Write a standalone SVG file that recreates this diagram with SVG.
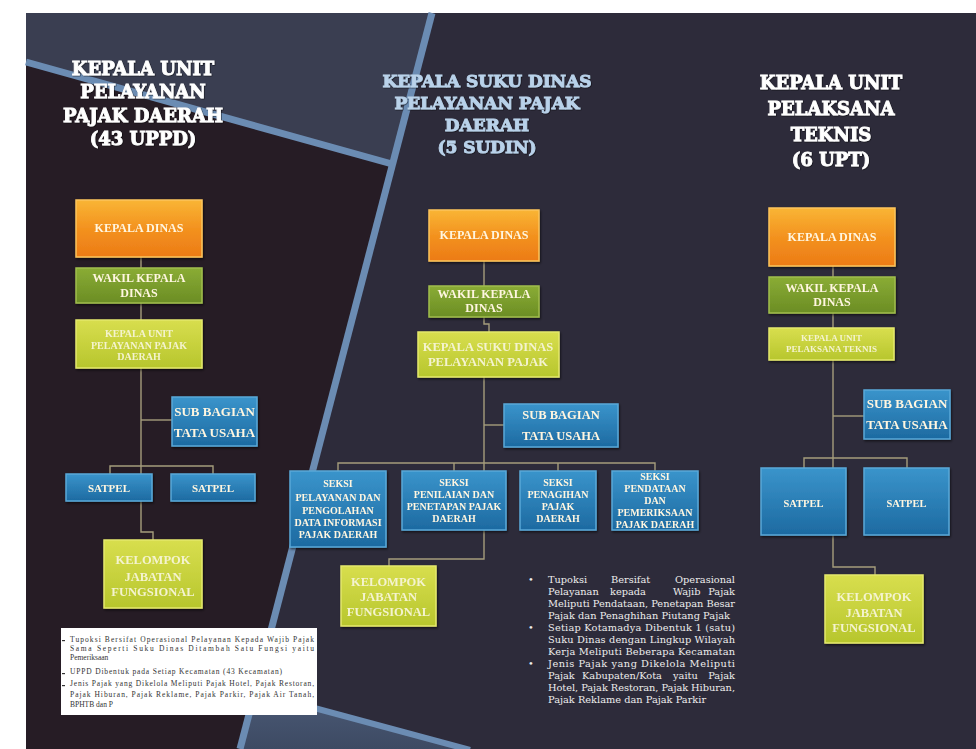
<svg xmlns="http://www.w3.org/2000/svg" width="976" height="749" viewBox="0 0 976 749">
<style>
.hd{font-family:"DejaVu Serif","Liberation Serif",serif;font-weight:bold;text-anchor:middle;fill:#ffffff;stroke:#ffffff;stroke-width:0.9}
.hdb{font-family:"DejaVu Serif","Liberation Serif",serif;font-weight:bold;text-anchor:middle;fill:#b9d2ea;stroke:#b9d2ea;stroke-width:0.9}
.bt{font-family:"Liberation Serif","DejaVu Serif",serif;font-weight:bold;text-anchor:middle;fill:#fff6e0}
.by{font-family:"Liberation Serif","DejaVu Serif",serif;font-weight:bold;text-anchor:middle;fill:#f4f3cf}
.con{fill:none;stroke:#a59d7c;stroke-width:1.4}
.note{font-family:"Liberation Serif",serif;font-size:7.5px;fill:#333}
.note2{font-family:"DejaVu Serif","Liberation Serif",serif;font-size:9.8px;fill:#ededed}
.or{fill:url(#gOr);stroke:#fbc45c;stroke-width:1.5}
.gr{fill:url(#gGr);stroke:#a0bd4c;stroke-width:1.5}
.ye{fill:url(#gYe);stroke:#e4e86c;stroke-width:1.5}
.bl{fill:url(#gBl);stroke:#5aa8d8;stroke-width:1.5}
</style>
<defs>
<linearGradient id="gOr" x1="0" y1="0" x2="0" y2="1"><stop offset="0" stop-color="#f9b535"/><stop offset="0.5" stop-color="#f3921f"/><stop offset="1" stop-color="#ec7b16"/></linearGradient>
<linearGradient id="gGr" x1="0" y1="0" x2="0" y2="1"><stop offset="0" stop-color="#8aac35"/><stop offset="1" stop-color="#6b8d24"/></linearGradient>
<linearGradient id="gYe" x1="0" y1="0" x2="0" y2="1"><stop offset="0" stop-color="#d8de4e"/><stop offset="1" stop-color="#b7c62d"/></linearGradient>
<linearGradient id="gBl" x1="0" y1="0" x2="0" y2="1"><stop offset="0" stop-color="#3a94cb"/><stop offset="1" stop-color="#1d6aa1"/></linearGradient>
<linearGradient id="gBand" x1="0" y1="0" x2="0" y2="1"><stop offset="0" stop-color="#4b5a76"/><stop offset="1" stop-color="#3d4a63"/></linearGradient>
<filter id="sh" x="-10%" y="-10%" width="120%" height="130%"><feDropShadow dx="1" dy="1.5" stdDeviation="1" flood-color="#000" flood-opacity="0.6"/></filter>
<filter id="tsh"><feDropShadow dx="0.6" dy="0.6" stdDeviation="0.4" flood-color="#000" flood-opacity="0.7"/></filter>
</defs>

<g id="background">
<rect x="0" y="0" width="976" height="749" fill="#ffffff"/>
<rect x="26" y="13" width="950" height="736" fill="#2d2b3a"/>
<polygon points="26,13 432,13 392,164 26,62" fill="#3a3e51"/>
<polygon points="26,62 392,164 240,749 26,749" fill="#261c25"/>
<polygon points="255,692 470,749 240,749" fill="url(#gBand)"/>
<g fill="none" stroke="#6b8cb3" stroke-width="7" stroke-linejoin="round">
<polyline points="26,62 392,164"/>
<polyline points="432,13 240,749"/>
<polyline points="255,692 470,750" stroke-width="6"/>
</g>
</g>

<g id="headers" filter="url(#tsh)">
<g id="hdr-left" class="hd" font-size="18">
<text x="143" y="75">KEPALA UNIT</text>
<text x="143" y="98">PELAYANAN</text>
<text x="143" y="122">PAJAK DAERAH</text>
<text x="143" y="145">(43 UPPD)</text>
</g>
<g id="hdr-mid" class="hdb" font-size="17">
<text x="487" y="87">KEPALA SUKU DINAS</text>
<text x="487" y="109">PELAYANAN PAJAK</text>
<text x="487" y="131">DAERAH</text>
<text x="487" y="153">(5 SUDIN)</text>
</g>
<g id="hdr-right" class="hd" font-size="18">
<text x="831" y="89">KEPALA UNIT</text>
<text x="831" y="115">PELAKSANA</text>
<text x="831" y="141">TEKNIS</text>
<text x="831" y="166">(6 UPT)</text>
</g>
</g>

<g id="connectors" class="con">
<path d="M141 257 V474"/>
<path d="M141 420 H172"/>
<path d="M110 474 V466 H213 V474"/>
<path d="M141 501 V532 H153 V540"/>
<path d="M484 261 V286"/>
<path d="M484 317 V324 H489 V332"/>
<path d="M484 377 V471"/>
<path d="M484 425 H504"/>
<path d="M338 471 V463 H655 V471"/>
<path d="M454 463 V471"/>
<path d="M558 463 V471"/>
<path d="M484 530 V559 H389 V566"/>
<path d="M833 266 V468"/>
<path d="M833 416 H864"/>
<path d="M804 468 V458 H907 V468"/>
<path d="M833 535 V567 H875 V575"/>
</g>

<!-- Left column -->
<g id="l-kd" filter="url(#sh)"><rect class="or" x="76" y="200" width="126" height="57"/><text class="bt" x="139" y="232" font-size="12">KEPALA DINAS</text></g>
<g id="l-wakil" filter="url(#sh)"><rect class="gr" x="76" y="268" width="126" height="35"/><text class="bt" x="139" y="282" font-size="12">WAKIL KEPALA</text><text class="bt" x="139" y="297" font-size="12">DINAS</text></g>
<g id="l-kuppd" filter="url(#sh)"><rect class="ye" x="76" y="320" width="126" height="48"/><text class="by" x="139" y="337" font-size="10">KEPALA UNIT</text><text class="by" x="139" y="349" font-size="10">PELAYANAN PAJAK</text><text class="by" x="139" y="360" font-size="10">DAERAH</text></g>
<g id="l-sub" filter="url(#sh)"><rect class="bl" x="172" y="397" width="85" height="49"/><text class="bt" x="214.5" y="416" font-size="13">SUB BAGIAN</text><text class="bt" x="214.5" y="437" font-size="13">TATA USAHA</text></g>
<g id="l-satpel1" filter="url(#sh)"><rect class="bl" x="66" y="474" width="86" height="27"/><text class="bt" x="109" y="492" font-size="11">SATPEL</text></g>
<g id="l-satpel2" filter="url(#sh)"><rect class="bl" x="171" y="474" width="84" height="27"/><text class="bt" x="213" y="492" font-size="11">SATPEL</text></g>
<g id="l-kjf" filter="url(#sh)"><rect class="ye" x="104" y="540" width="98" height="68"/><text class="by" x="153" y="564" font-size="12.5">KELOMPOK</text><text class="by" x="153" y="581" font-size="12.5">JABATAN</text><text class="by" x="153" y="596" font-size="12.5">FUNGSIONAL</text></g>

<!-- Middle column -->
<g id="m-kd" filter="url(#sh)"><rect class="or" x="429" y="210" width="110" height="51"/><text class="bt" x="484" y="239" font-size="12">KEPALA DINAS</text></g>
<g id="m-wakil" filter="url(#sh)"><rect class="gr" x="429" y="286" width="110" height="31"/><text class="bt" x="484" y="298" font-size="12">WAKIL KEPALA</text><text class="bt" x="484" y="312" font-size="12">DINAS</text></g>
<g id="m-ksd" filter="url(#sh)"><rect class="ye" x="418" y="332" width="141" height="45"/><text class="by" x="488" y="351" font-size="12.5">KEPALA SUKU DINAS</text><text class="by" x="488" y="366" font-size="12.5">PELAYANAN PAJAK</text></g>
<g id="m-sub" filter="url(#sh)"><rect class="bl" x="504" y="404" width="114" height="43"/><text class="bt" x="561" y="419" font-size="12.5">SUB BAGIAN</text><text class="bt" x="561" y="440" font-size="12.5">TATA USAHA</text></g>
<g id="m-seksi1" filter="url(#sh)"><rect class="bl" x="290" y="471" width="96" height="76"/><text class="bt" x="338" y="487" font-size="10">SEKSI</text><text class="bt" x="338" y="501" font-size="10">PELAYANAN DAN</text><text class="bt" x="338" y="514" font-size="10">PENGOLAHAN</text><text class="bt" x="338" y="526" font-size="10">DATA INFORMASI</text><text class="bt" x="338" y="538" font-size="10">PAJAK DAERAH</text></g>
<g id="m-seksi2" filter="url(#sh)"><rect class="bl" x="402" y="471" width="104" height="59"/><text class="bt" x="454" y="486" font-size="10">SEKSI</text><text class="bt" x="454" y="498" font-size="10">PENILAIAN DAN</text><text class="bt" x="454" y="510" font-size="10">PENETAPAN PAJAK</text><text class="bt" x="454" y="522" font-size="10">DAERAH</text></g>
<g id="m-seksi3" filter="url(#sh)"><rect class="bl" x="520" y="471" width="76" height="59"/><text class="bt" x="558" y="486" font-size="10">SEKSI</text><text class="bt" x="558" y="498" font-size="10">PENAGIHAN</text><text class="bt" x="558" y="510" font-size="10">PAJAK</text><text class="bt" x="558" y="522" font-size="10">DAERAH</text></g>
<g id="m-seksi4" filter="url(#sh)"><rect class="bl" x="612" y="471" width="86" height="59"/><text class="bt" x="655" y="480" font-size="10">SEKSI</text><text class="bt" x="655" y="492" font-size="10">PENDATAAN</text><text class="bt" x="655" y="504" font-size="10">DAN</text><text class="bt" x="655" y="516" font-size="10">PEMERIKSAAN</text><text class="bt" x="655" y="528" font-size="10">PAJAK DAERAH</text></g>
<g id="m-kjf" filter="url(#sh)"><rect class="ye" x="341" y="566" width="95" height="60"/><text class="by" x="388.5" y="586" font-size="12.5">KELOMPOK</text><text class="by" x="388.5" y="601" font-size="12.5">JABATAN</text><text class="by" x="388.5" y="616" font-size="12.5">FUNGSIONAL</text></g>

<!-- Right column -->
<g id="r-kd" filter="url(#sh)"><rect class="or" x="769" y="208" width="126" height="58"/><text class="bt" x="832" y="241" font-size="12">KEPALA DINAS</text></g>
<g id="r-wakil" filter="url(#sh)"><rect class="gr" x="769" y="277" width="126" height="36"/><text class="bt" x="832" y="292" font-size="12">WAKIL KEPALA</text><text class="bt" x="832" y="306" font-size="12">DINAS</text></g>
<g id="r-kupt" filter="url(#sh)"><rect class="ye" x="769" y="328" width="125" height="32"/><text class="by" x="831.5" y="341" font-size="9">KEPALA UNIT</text><text class="by" x="831.5" y="352" font-size="9">PELAKSANA TEKNIS</text></g>
<g id="r-sub" filter="url(#sh)"><rect class="bl" x="864" y="390" width="86" height="49"/><text class="bt" x="907" y="408" font-size="13">SUB BAGIAN</text><text class="bt" x="907" y="429" font-size="13">TATA USAHA</text></g>
<g id="r-satpel1" filter="url(#sh)"><rect class="bl" x="761" y="468" width="85" height="67"/><text class="bt" x="803.5" y="507" font-size="10.5">SATPEL</text></g>
<g id="r-satpel2" filter="url(#sh)"><rect class="bl" x="864" y="468" width="85" height="67"/><text class="bt" x="906.5" y="507" font-size="10.5">SATPEL</text></g>
<g id="r-kjf" filter="url(#sh)"><rect class="ye" x="825" y="575" width="98" height="68"/><text class="by" x="874" y="601" font-size="12.5">KELOMPOK</text><text class="by" x="874" y="617" font-size="12.5">JABATAN</text><text class="by" x="874" y="632" font-size="12.5">FUNGSIONAL</text></g>

<g id="note-left">
<rect x="61" y="628" width="256" height="87" fill="#ffffff"/>
<rect x="62" y="640" width="3" height="1.2" fill="#333"/>
<rect x="62" y="673" width="3" height="1.2" fill="#333"/>
<rect x="62" y="685" width="3" height="1.2" fill="#333"/>
<text class="note" x="70" y="642" textLength="244" lengthAdjust="spacing">Tupoksi Bersifat Operasional Pelayanan Kepada Wajib Pajak</text>
<text class="note" x="70" y="651" textLength="244" lengthAdjust="spacing">Sama Seperti Suku Dinas Ditambah Satu Fungsi yaitu</text>
<text class="note" x="70" y="660">Pemeriksaan</text>
<text class="note" x="70" y="674" textLength="212" lengthAdjust="spacing">UPPD Dibentuk pada Setiap Kecamatan (43 Kecamatan)</text>
<text class="note" x="70" y="686" textLength="244" lengthAdjust="spacing">Jenis Pajak yang Dikelola Meliputi Pajak Hotel, Pajak Restoran,</text>
<text class="note" x="70" y="697" textLength="244" lengthAdjust="spacing">Pajak Hiburan, Pajak Reklame, Pajak Parkir, Pajak Air Tanah,</text>
<text class="note" x="70" y="707">BPHTB dan P</text>
</g>

<g id="note-mid">
<text class="note2" x="528" y="583">•</text>
<text class="note2" x="528" y="631">•</text>
<text class="note2" x="528" y="667">•</text>
<text class="note2" y="583"><tspan x="548">Tupoksi</tspan><tspan x="611">Bersifat</tspan><tspan x="735" text-anchor="end">Operasional</tspan></text>
<text class="note2" y="595"><tspan x="548">Pelayanan</tspan><tspan x="610">kepada</tspan><tspan x="673">Wajib</tspan><tspan x="735" text-anchor="end">Pajak</tspan></text>
<text class="note2" x="548" y="607" textLength="187" lengthAdjust="spacing">Meliputi Pendataan, Penetapan Besar</text>
<text class="note2" x="548" y="619" textLength="182" lengthAdjust="spacing">Pajak dan Penaghihan Piutang Pajak</text>
<text class="note2" x="548" y="631" textLength="187" lengthAdjust="spacing">Setiap Kotamadya Dibentuk 1 (satu)</text>
<text class="note2" x="548" y="643" textLength="187" lengthAdjust="spacing">Suku Dinas dengan Lingkup Wilayah</text>
<text class="note2" x="548" y="655" textLength="187" lengthAdjust="spacing">Kerja Meliputi Beberapa Kecamatan</text>
<text class="note2" x="548" y="667" textLength="187" lengthAdjust="spacing">Jenis Pajak yang Dikelola Meliputi</text>
<text class="note2" y="679"><tspan x="548">Pajak</tspan><tspan x="582">Kabupaten/Kota</tspan><tspan x="673">yaitu</tspan><tspan x="735" text-anchor="end">Pajak</tspan></text>
<text class="note2" x="548" y="691" textLength="187" lengthAdjust="spacing">Hotel, Pajak Restoran, Pajak Hiburan,</text>
<text class="note2" x="548" y="703">Pajak Reklame dan Pajak Parkir</text>
</g>
</svg>
